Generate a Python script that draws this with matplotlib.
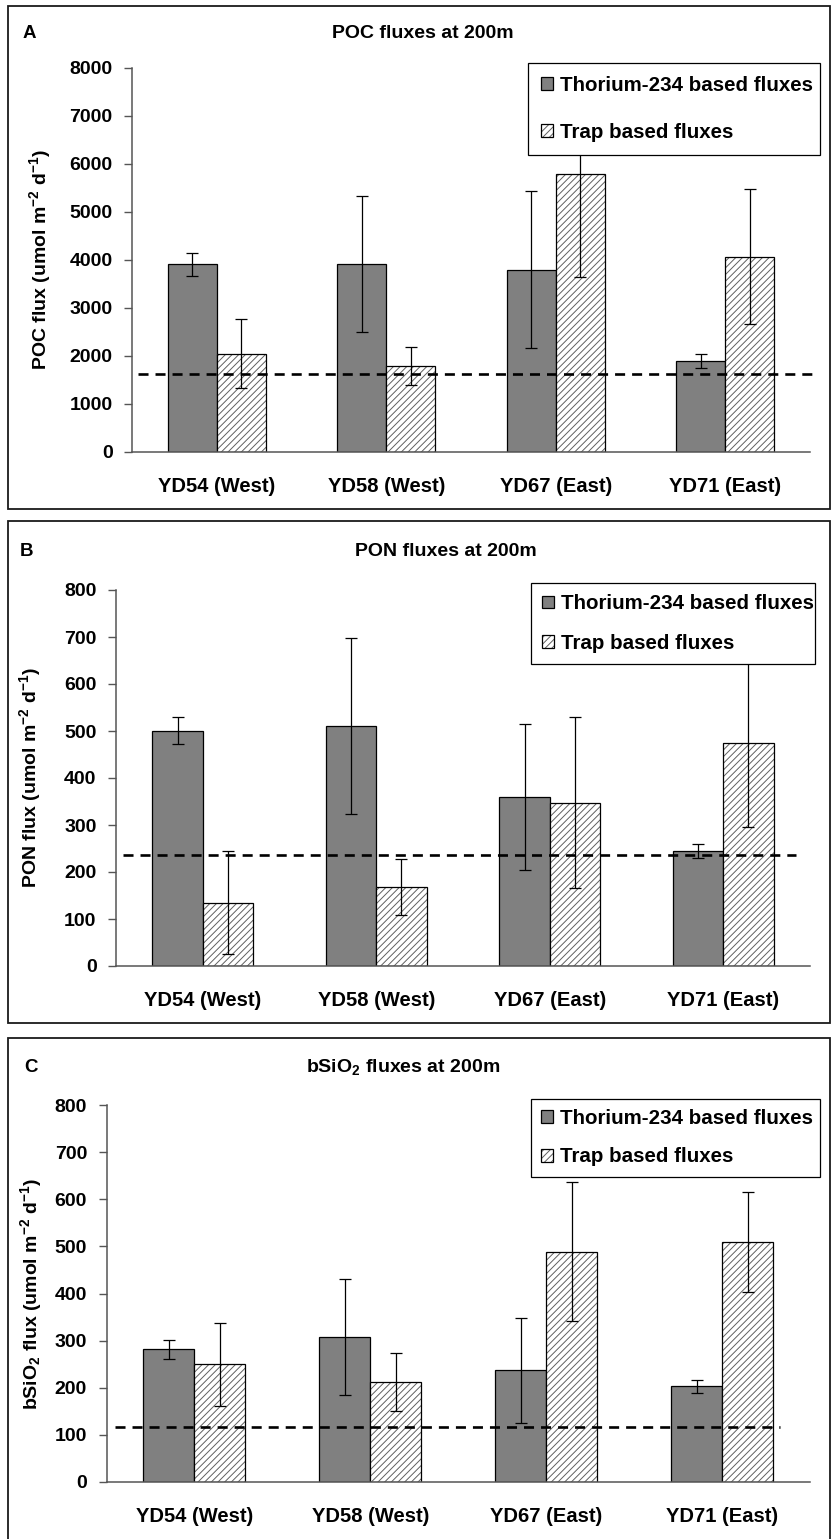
import matplotlib
matplotlib.use('Agg')
import matplotlib.pyplot as plt
import numpy as np
from matplotlib.patches import Rectangle
from matplotlib.legend_handler import HandlerTuple

# ---------------- data ----------------
categories = ['YD54 (West)', 'YD58 (West)', 'YD67 (East)', 'YD71 (East)']
series_names = ['Thorium-234 based fluxes', 'Trap based fluxes']

poc_th = [3910, 3910, 3800, 1890]
poc_th_err = [245, 1420, 1640, 150]
poc_trap = [2050, 1790, 5790, 4070]
poc_trap_err = [720, 390, 2150, 1410]
poc_ref = 1620

pon_th = [501, 510, 360, 244]
pon_th_err = [28, 187, 155, 15]
pon_trap = [135, 168, 347, 474]
pon_trap_err = [110, 59, 182, 178]
pon_ref = 236

bsi_th = [282, 308, 237, 203]
bsi_th_err = [20, 123, 111, 14]
bsi_trap = [250, 212, 489, 510]
bsi_trap_err = [88, 62, 148, 106]
bsi_ref = 117

titles = ['POC fluxes at 200m', 'PON fluxes at 200m', 'bSiO$_{2}$ fluxes at 200m']
letters = ['A', 'B', 'C']
ylabels = ['POC flux (umol m$^{-2}$ d$^{-1}$)',
           'PON flux (umol m$^{-2}$ d$^{-1}$)',
           'bSiO$_{2}$ flux (umol m$^{-2}$ d$^{-1}$)']
yticks_list = [list(range(0, 8001, 1000)), list(range(0, 801, 100)), list(range(0, 801, 100))]

# ---------------- style ----------------
plt.rcParams['font.family'] = ['Liberation Sans', 'DejaVu Sans']
plt.rcParams['font.weight'] = 'bold'
plt.rcParams['mathtext.fontset'] = 'custom'
plt.rcParams['mathtext.rm'] = 'Liberation Sans:bold'
plt.rcParams['mathtext.bf'] = 'Liberation Sans:bold'
plt.rcParams['mathtext.it'] = 'Liberation Sans:bold'
plt.rcParams['mathtext.sf'] = 'Liberation Sans:bold'
plt.rcParams['hatch.linewidth'] = 0.7

W, H = 835, 1539
fig = plt.figure(figsize=(W / 100, H / 100), dpi=100)


def fx(px):
    return px / W


def fy(py):
    return 1 - py / H


# layout (pixel positions)
layout = [
    dict(ax=(132, 68, 810, 452), border=(8, 6, 830, 509), title_xy=(423, 33), letter_xy=(23, 33),
         ylab_x=40, leg=(528, 63, 292), leg_ls=1.36, leg_bp=0.64, dash=(0.009, 1.003)),
    dict(ax=(116, 590, 810, 966), border=(8, 521, 830, 1023), title_xy=(446, 551), letter_xy=(20, 551),
         ylab_x=30, leg=(531, 583, 284), leg_ls=0.99, leg_bp=0.55, dash=(0.01, 0.98)),
    dict(ax=(106.5, 1105, 810, 1482), border=(8, 1038, 830, 1560), title_xy=(403, 1067), letter_xy=(24, 1067),
         ylab_x=31, leg=(531, 1099, 289), leg_ls=0.94, leg_bp=0.5, dash=(0.012, 0.957)),
]

data = [
    (poc_th, poc_th_err, poc_trap, poc_trap_err, poc_ref),
    (pon_th, pon_th_err, pon_trap, pon_trap_err, pon_ref),
    (bsi_th, bsi_th_err, bsi_trap, bsi_trap_err, bsi_ref),
]

bw = 0.29
x = np.arange(len(categories))
axis_color = '#555555'

for i, (lay, d) in enumerate(zip(layout, data)):
    th, th_err, tr, tr_err, ref = d
    l, t, r, b = lay['ax']
    ax = fig.add_axes([fx(l), fy(b), (r - l) / W, (b - t) / H])

    b1 = ax.bar(x - bw / 2, th, bw, color='#808080', edgecolor='black', linewidth=0.9, zorder=2)
    b2h = ax.bar(x + bw / 2, tr, bw, color='white', edgecolor='#606060', hatch='/////', linewidth=0, zorder=2)
    b2o = ax.bar(x + bw / 2, tr, bw, fill=False, edgecolor='black', linewidth=0.9, zorder=2.1)

    ax.errorbar(x - bw / 2, th, yerr=th_err, fmt='none', ecolor='black', elinewidth=0.9,
                capsize=4.3, capthick=0.9, zorder=3)
    ax.errorbar(x + bw / 2, tr, yerr=tr_err, fmt='none', ecolor='black', elinewidth=0.9,
                capsize=4.3, capthick=0.9, zorder=3)

    ax.axhline(ref, xmin=lay['dash'][0], xmax=lay['dash'][1], color='black', lw=1.9,
               ls=(0, (3.8, 2.65)), zorder=4, clip_on=False)

    ax.set_xlim(-0.5, len(categories) - 0.5)
    yt = yticks_list[i]
    ax.set_ylim(yt[0], yt[-1])
    ax.set_yticks(yt)
    ax.set_xticks(x)
    ax.set_xticklabels(categories, fontsize=14.5, fontweight='bold')
    ax.tick_params(axis='y', direction='out', length=5.5, width=1, color=axis_color, pad=8.5,
                   labelsize=14)
    ax.tick_params(axis='x', length=0, pad=18)
    for s in ['top', 'right']:
        ax.spines[s].set_visible(False)
    for s in ['left', 'bottom']:
        ax.spines[s].set_color(axis_color)
        ax.spines[s].set_linewidth(1.1)

    ax.set_ylabel(ylabels[i], fontsize=14, fontweight='bold')
    ax.yaxis.set_label_coords((lay['ylab_x'] - l) / (r - l), 0.5)
    ax.yaxis.label.set_va('center')

    # legend
    lx, ly, lw_ = lay['leg']
    leg = ax.legend([b1, (b2h, b2o)], series_names, handler_map={tuple: HandlerTuple(ndivide=1)},
                    loc='upper left', bbox_to_anchor=(fx(lx), fy(ly), lw_ / W, 0.0001),
                    bbox_transform=fig.transFigure, mode='expand', borderaxespad=0,
                    prop={'size': 14.8, 'weight': 'bold'}, handlelength=0.58, handleheight=0.58,
                    handletextpad=0.34, labelspacing=lay['leg_ls'], borderpad=lay['leg_bp'],
                    fancybox=False, shadow=False, framealpha=1, edgecolor='black')
    leg.get_frame().set_linewidth(0.9)
    leg.set_zorder(10)

    # title and panel letter
    fig.text(fx(lay['title_xy'][0]), fy(lay['title_xy'][1]), titles[i], ha='center', va='center',
             fontsize=14, fontweight='bold')
    fig.text(fx(lay['letter_xy'][0]), fy(lay['letter_xy'][1]), letters[i], ha='left', va='center',
             fontsize=13.5, fontweight='bold')

    # panel border
    bl, bt, br, bb = lay['border']
    fig.add_artist(Rectangle((fx(bl), fy(bb)), (br - bl) / W, (bb - bt) / H, transform=fig.transFigure,
                             fill=False, edgecolor='#1a1a1a', linewidth=1.3))

fig.savefig('out.png', dpi=100)
